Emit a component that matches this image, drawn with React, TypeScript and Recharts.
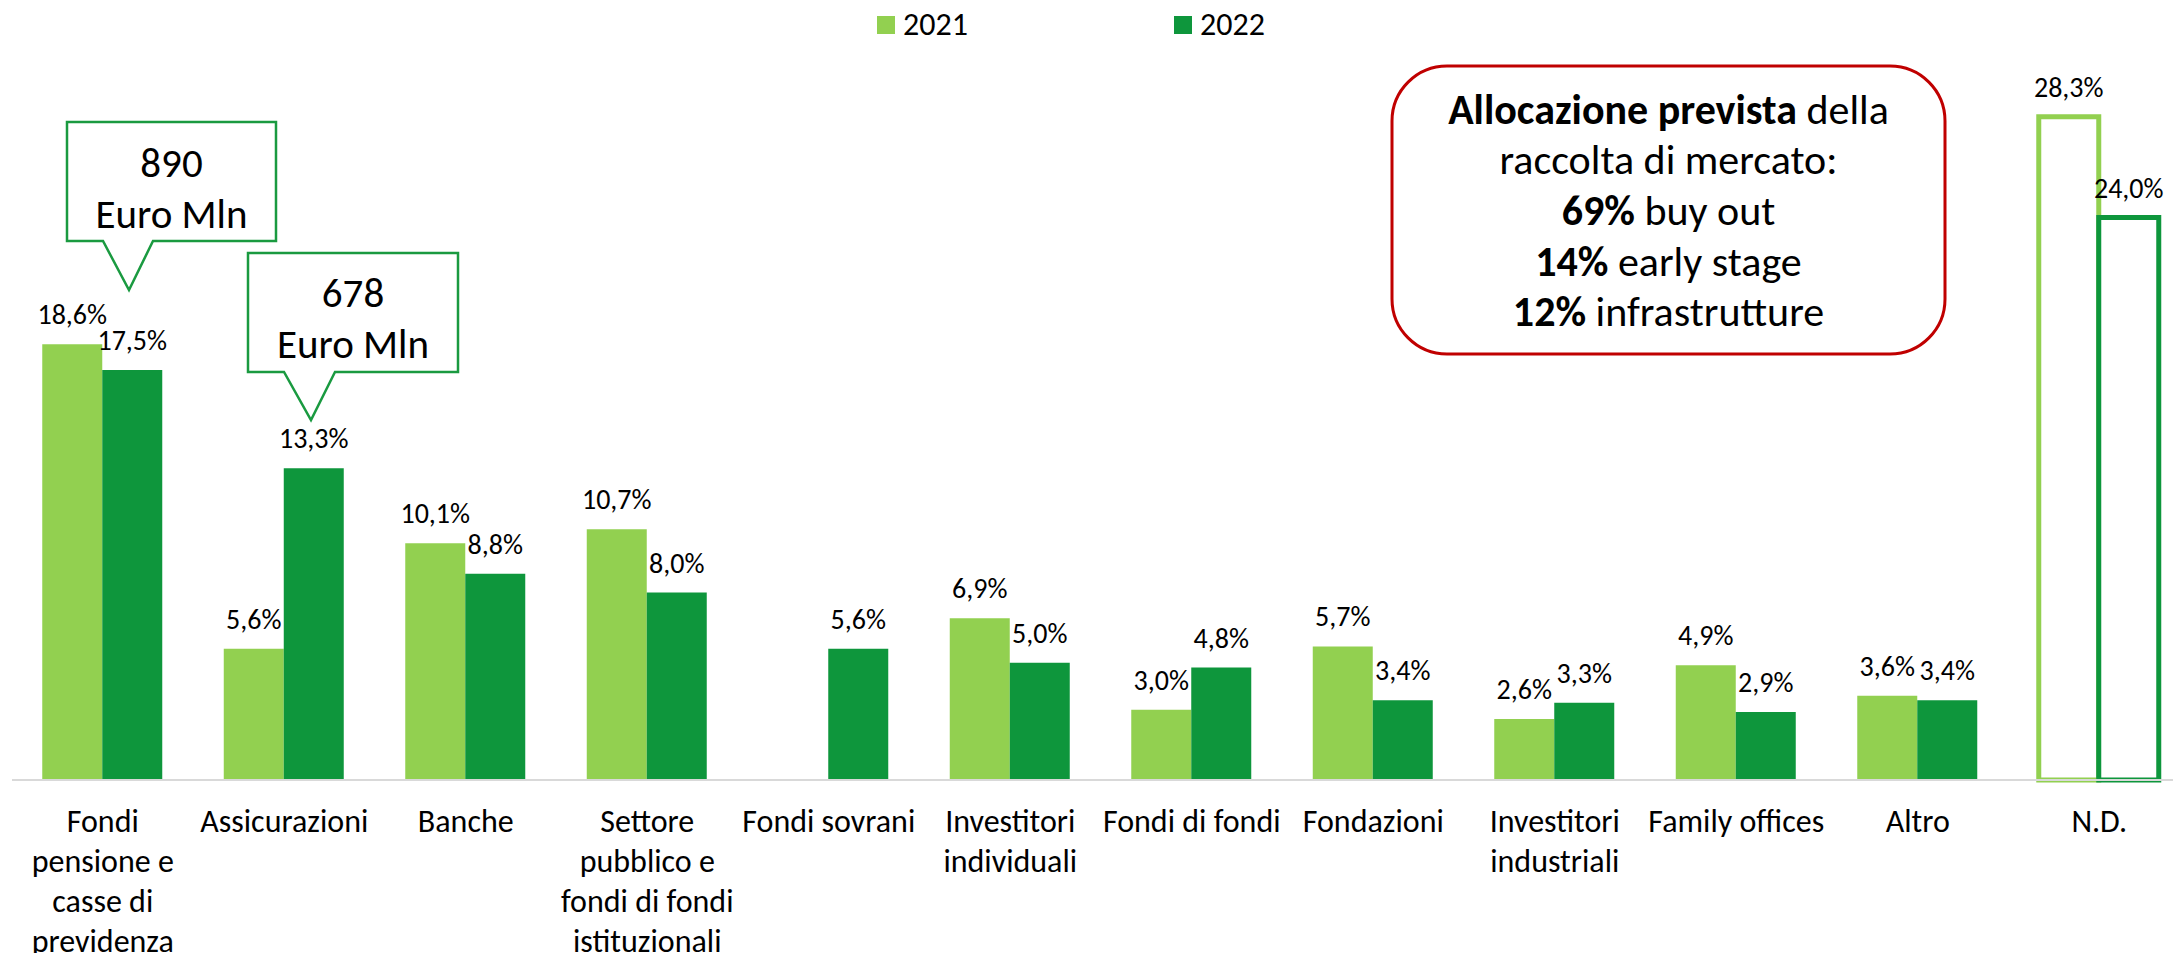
import React from 'react';
import { BarChart, Bar, XAxis, YAxis, Cell, LabelList } from 'recharts';

const categories = [
  'Fondi\npensione e\ncasse di\nprevidenza',
  'Assicurazioni',
  'Banche',
  'Settore\npubblico e\nfondi di fondi\nistituzionali',
  'Fondi sovrani',
  'Investitori\nindividuali',
  'Fondi di fondi',
  'Fondazioni',
  'Investitori\nindustriali',
  'Family offices',
  'Altro',
  'N.D.',
];
const values2021: (number | null)[] = [18.6, 5.6, 10.1, 10.7, null, 6.9, 3.0, 5.7, 2.6, 4.9, 3.6, 28.3];
const values2022: (number | null)[] = [17.5, 13.3, 8.8, 8.0, 5.6, 5.0, 4.8, 3.4, 3.3, 2.9, 3.4, 24.0];
const seriesNames = ['2021', '2022'];
const outlinedCategory = 'N.D.';

const callouts = [
  { value: '890', unit: 'Euro Mln' },
  { value: '678', unit: 'Euro Mln' },
];
const boxLines: { bold: string; rest: string }[] = [
  { bold: 'Allocazione prevista', rest: ' della' },
  { bold: '', rest: 'raccolta di mercato:' },
  { bold: '69%', rest: ' buy out' },
  { bold: '14%', rest: ' early stage' },
  { bold: '12%', rest: ' infrastrutture' },
];

const LIGHT = '#92D050';
const DARK = '#0E963C';
const FONT = "Carlito, Calibri, 'Liberation Sans', Arial, sans-serif";

const data = categories.map((c, i) => ({ category: c, y2021: values2021[i], y2022: values2022[i] }));

const fmt = (v: number) => v.toFixed(1).replace('.', ',') + '%';

const ValueLabel = (props: any) => {
  const { x, y, width, value } = props;
  if (value === null || value === undefined) return null;
  return (
    <text x={x + width / 2} y={y - 20} textAnchor="middle" fontSize={28} fontFamily={FONT} fill="#000">
      {fmt(Number(value))}
    </text>
  );
};

const CategoryTick = (props: any) => {
  const { x, y, payload } = props;
  const lines = String(payload.value).split('\n');
  return (
    <text x={x} y={y} textAnchor="middle" fontSize={32} fontFamily={FONT} fill="#000">
      {lines.map((l, i) => (
        <tspan key={i} x={x} dy={i === 0 ? 52 : 40}>
          {l}
        </tspan>
      ))}
    </text>
  );
};

const Overlay = () => (
  <svg
    width={2173}
    height={953}
    style={{ position: 'absolute', left: 0, top: 0, pointerEvents: 'none' }}
    fontFamily={FONT}
  >
    {/* legend */}
    <rect x={877} y={16} width={18} height={18} fill={LIGHT} />
    <text x={903} y={34.5} fontSize={32} fill="#000">{seriesNames[0]}</text>
    <rect x={1174} y={16} width={18} height={18} fill={DARK} />
    <text x={1200} y={34.5} fontSize={32} fill="#000">{seriesNames[1]}</text>

    {/* callout 1 */}
    <path d="M67,122 H276 V241 H153 L129,290 L103,241 H67 Z" fill="#fff" stroke="#1A9A40" strokeWidth={2.5} />
    <text x={171.5} y={177} textAnchor="middle" fontSize={41} fill="#000">{callouts[0].value}</text>
    <text x={171.5} y={228} textAnchor="middle" fontSize={41} fill="#000">{callouts[0].unit}</text>

    {/* callout 2 */}
    <path d="M248,253 H458 V372 H335 L311,420 L284,372 H248 Z" fill="#fff" stroke="#1A9A40" strokeWidth={2.5} />
    <text x={353} y={307} textAnchor="middle" fontSize={41} fill="#000">{callouts[1].value}</text>
    <text x={353} y={358} textAnchor="middle" fontSize={41} fill="#000">{callouts[1].unit}</text>

    {/* info box */}
    <rect x={1392} y={66} width={553} height={288} rx={55} ry={55} fill="#fff" stroke="#C00000" strokeWidth={3} />
    {boxLines.map((l, i) => (
      <text key={i} x={1668.5} y={123.5 + i * 50.7} textAnchor="middle" fontSize={42} fill="#000">
        {l.bold ? <tspan fontWeight="bold">{l.bold}</tspan> : null}
        <tspan>{l.rest}</tspan>
      </text>
    ))}
  </svg>
);

export default function App() {
  return (
    <div style={{ position: 'absolute', left: 0, top: 0, width: 2173, height: 953, background: '#fff', overflow: 'hidden' }}>
      <BarChart
        width={2173}
        height={953}
        data={data}
        margin={{ top: 77, right: -17, bottom: 33, left: 12 }}
        barCategoryGap="16.67%"
        barGap={0}
      >
        <XAxis
          dataKey="category"
          interval={0}
          tickLine={false}
          tickSize={0}
          tickMargin={0}
          height={140}
          axisLine={{ stroke: '#D9D9D9', strokeWidth: 2 }}
          tick={<CategoryTick />}
        />
        <YAxis hide domain={[0, 30]} />
        <Bar dataKey="y2021" name={seriesNames[0]} fill={LIGHT} isAnimationActive={false}>
          {data.map((d, i) => (
            <Cell
              key={i}
              fill={d.category === outlinedCategory ? '#fff' : LIGHT}
              stroke={d.category === outlinedCategory ? LIGHT : 'none'}
              strokeWidth={d.category === outlinedCategory ? 5 : 0}
            />
          ))}
          <LabelList dataKey="y2021" content={<ValueLabel />} />
        </Bar>
        <Bar dataKey="y2022" name={seriesNames[1]} fill={DARK} isAnimationActive={false}>
          {data.map((d, i) => (
            <Cell
              key={i}
              fill={d.category === outlinedCategory ? '#fff' : DARK}
              stroke={d.category === outlinedCategory ? DARK : 'none'}
              strokeWidth={d.category === outlinedCategory ? 5 : 0}
            />
          ))}
          <LabelList dataKey="y2022" content={<ValueLabel />} />
        </Bar>
      </BarChart>
      <Overlay />
    </div>
  );
}
